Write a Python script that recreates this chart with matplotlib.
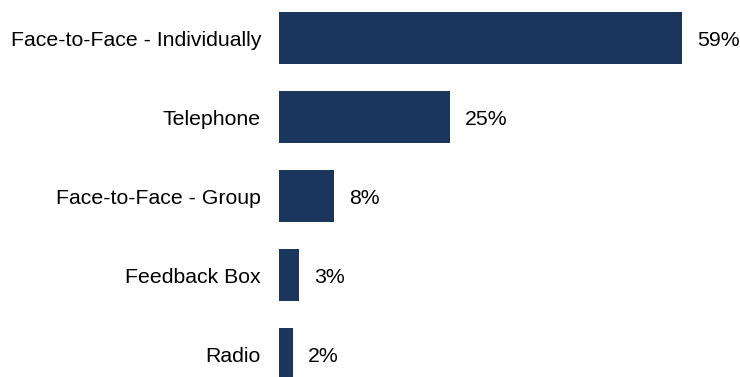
import matplotlib
matplotlib.use("Agg")
import matplotlib.pyplot as plt

# Feedback channels, top to bottom
CHANNELS = ["Face-to-Face - Individually", "Telephone", "Face-to-Face - Group",
            "Feedback Box", "Radio"]
SHARES = [59, 25, 8, 3, 2]
BAR_COLOR = "#1a365d"

plt.rcParams["font.family"] = ["Liberation Sans", "DejaVu Sans"]

fig = plt.figure(figsize=(7.4, 3.77), dpi=100)
ax = fig.add_axes([279 / 740, 0, 461 / 740, 1])

ypos = list(range(len(CHANNELS)))
ax.barh(ypos, SHARES, height=0.66, color=BAR_COLOR)
for y, v in zip(ypos, SHARES):
    ax.annotate(f"{v}%", (v, y), xytext=(15, -2), textcoords="offset pixels",
                ha="left", va="center", fontsize=15.3)

ax.set_ylim(4.291, -0.481)
ax.set_xlim(0, 67.5)
ax.set_yticks(ypos)
ax.set_yticklabels(CHANNELS, fontsize=15.3)
ax.tick_params(axis="y", length=0, pad=13)
ax.set_xticks([])
for s in ax.spines.values():
    s.set_visible(False)

fig.savefig("out.png", dpi=100)
